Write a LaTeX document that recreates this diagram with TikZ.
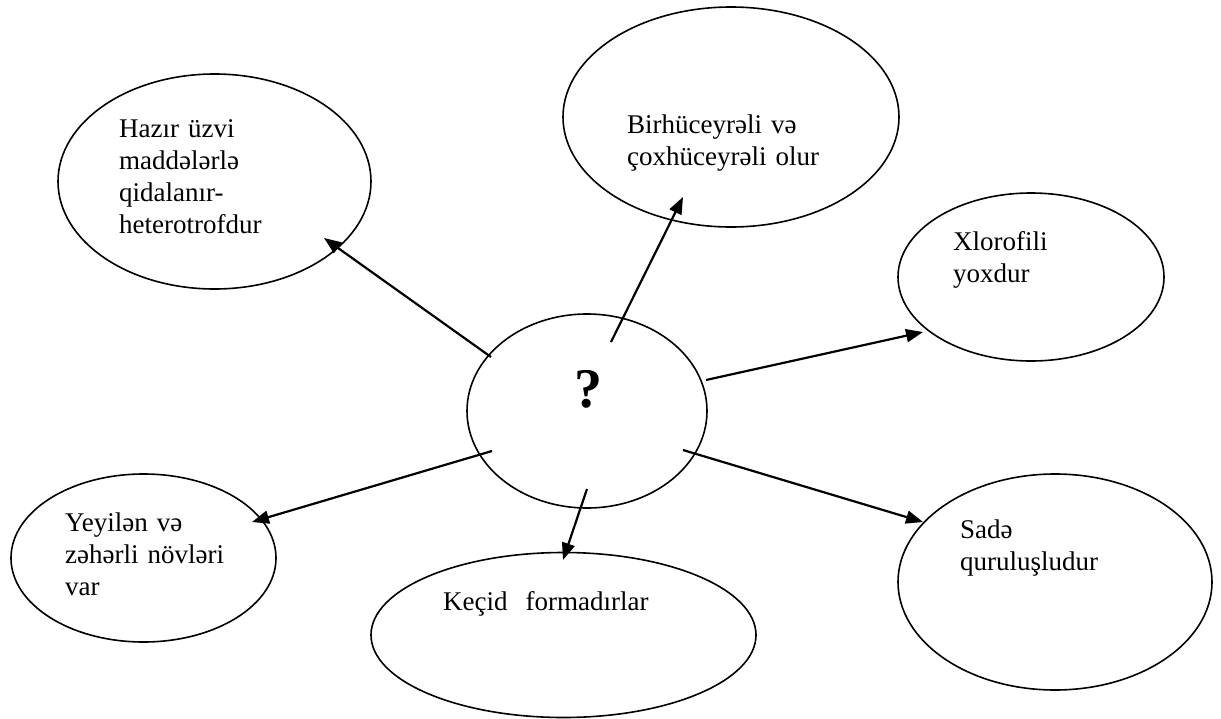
\documentclass[tikz,border=0pt]{standalone}
\usepackage{fontspec}
\setmainfont{Liberation Serif}
\usetikzlibrary{shapes.geometric,arrows.meta}
\begin{document}
\begin{tikzpicture}[x=1pt,y=-1pt,
  oval/.style={draw,ellipse,line width=1.6pt,inner sep=0pt},
  lbl/.style={anchor=base west,inner sep=0pt,text width=260pt,align=left,
    font=\fontsize{27}{32}\selectfont},
  conn/.style={line width=2.2pt,-{Triangle[length=17pt,width=13pt]}}]
\useasboundingbox (0,0) rectangle (1221,718);
% ellipses
\node[oval,minimum width=240pt,minimum height=194pt] (c) at (587,411) {};
\node[oval,minimum width=313pt,minimum height=215pt] (hz) at (214.5,181.5) {};
\node[oval,minimum width=336pt,minimum height=220pt] (bir) at (731,117) {};
\node[oval,minimum width=266pt,minimum height=168pt] (xl) at (1031,277) {};
\node[oval,minimum width=314pt,minimum height=216pt] (sd) at (1055,582) {};
\node[oval,minimum width=385pt,minimum height=165pt] (kc) at (563.5,635) {};
\node[oval,minimum width=265pt,minimum height=168pt] (yy) at (143.5,558) {};
% texts
\node[anchor=base,inner sep=0pt,font=\fontsize{56}{60}\selectfont\bfseries] (q) at (588,407) {?};
\node[lbl] (thz) at (119,137) {Hazır üzvi\\maddələrlə\\qidalanır-\\heterotrofdur};
\node[lbl] (tbir) at (627,133) {Birhüceyrəli və\\çoxhüceyrəli olur};
\node[lbl] (txl) at (953,250) {Xlorofili\\yoxdur};
\node[lbl] (tsd) at (960,538) {Sadə\\quruluşludur};
\node[lbl] (tkc) at (443,610) {Keçid\ \ formadırlar};
\node[lbl] (tyy) at (65,531) {Yeyilən və\\zəhərli növləri\\var};
% connector end points
\coordinate (s1) at (491,357); \coordinate (e1) at (324,238);
\coordinate (s2) at (611,342); \coordinate (e2) at (683,197);
\coordinate (s3) at (706,380); \coordinate (e3) at (923,332);
\coordinate (s4) at (683,450); \coordinate (e4) at (923,522);
\coordinate (s5) at (587,489); \coordinate (e5) at (563,560);
\coordinate (s6) at (492,451); \coordinate (e6) at (252,522);
\draw[conn] (s1) -- (e1);
\draw[conn] (s2) -- (e2);
\draw[conn] (s3) -- (e3);
\draw[conn] (s4) -- (e4);
\draw[conn] (s5) -- (e5);
\draw[conn] (s6) -- (e6);
\end{tikzpicture}
\end{document}
